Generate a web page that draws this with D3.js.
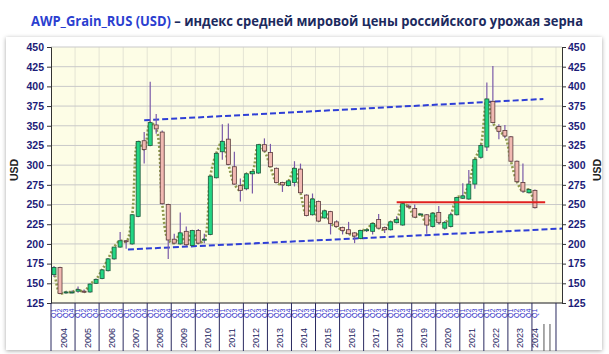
<!DOCTYPE html>
<html>
<head>
<meta charset="utf-8">
<script src="https://cdnjs.cloudflare.com/ajax/libs/d3/7.8.5/d3.min.js"></script>
<style>
  body { margin: 0; background: #fff; }
  svg { display: block; font-family: "Liberation Sans", Arial, sans-serif; }
</style>
</head>
<body>
<div id="chart"></div>
<script>
// quarters 2004 Q1 .. 2024 Q1
const years = d3.range(2004, 2025);
const quarterNames = ["Q1", "Q2", "Q3", "Q4"];

const openV = [161,170,138,139,140,140,139,150, 156,166,181,196, 204,200,235,331,
  325,351,342,250, 206,200,216,198, 217,205,212,284, 317,333,298,274,
  270,289,290,326, 316,296,278,274, 278,295,262,237, 254,233,241,228,
  221,218,214,207, 217,216,231,221, 218,227,224,248, 245,238,237,222,
  240,220,222,237, 258,257,276,310, 323,381,349,344, 336,305,278,265, 268];
const highV = [172,171,140,141,146,142,150,156, 168,182,196,215, 205,238,331,342,
  406,365,344,251, 213,240,222,218, 219,213,287,316, 352,353,317,283,
  290,292,327,334, 327,297,279,281, 305,302,263,264, 255,243,242,230,
  222,228,215,218, 219,227,238,222, 229,235,252,250, 250,239,238,240,
  248,229,240,260, 277,294,308,327, 405,426,352,351, 337,306,302,270, 269];
const lowV = [158,136,137,137,138,138,138,149, 155,165,180,195, 194,199,234,302,
  324,340,250,181, 200,199,197,197, 200,201,211,283, 307,300,275,254,
  268,264,289,317, 298,277,266,273, 273,264,235,236, 228,232,212,221,
  212,212,201,206, 215,212,219,214, 217,226,223,246, 233,237,213,221,
  225,218,221,236, 257,256,270,308, 318,353,333,334, 304,278,265,264, 245];
const closeV = [170,137,139,139,142,139,149,155, 167,181,196,204, 203,237,330,320,
  354,346,251,205, 201,214,199,217, 201,206,286,315, 330,301,276,268,
  289,292,326,318, 298,278,275,280, 296,265,236,257, 229,242,226,222,
  217,213,210,217, 218,226,220,218, 228,231,251,247, 234,238,224,239,
  227,227,237,259, 261,276,307,325, 384,354,343,337, 305,279,267,269, 246];

const yTicks = d3.range(125, 451, 25);
// trend lines: [quarter index, USD]
const upperTrend = [[15.5, 357], [81.9, 384]];
const lowerTrend = [[12.8, 193], [85, 219.5]];
const redLevel = [[57.5, 253], [82.2, 253]];

const width = 609, height = 354;
const margin = { left: 51, right: 47, top: 47, bottom: 51 };
const nSlots = 85;

const svg = d3.select("#chart").append("svg")
  .attr("width", width).attr("height", height);

const defs = svg.append("defs");
const shadow = defs.append("filter").attr("id", "shadow")
  .attr("x", "-5%").attr("y", "-5%").attr("width", "110%").attr("height", "110%");
shadow.append("feDropShadow").attr("dx", 0).attr("dy", 1)
  .attr("stdDeviation", 2).attr("flood-color", "#000").attr("flood-opacity", 0.35);

// panel
svg.append("rect").attr("x", 6).attr("y", 37).attr("width", 596).attr("height", 313)
  .attr("fill", "#fff").attr("filter", "url(#shadow)");

// title
const title = svg.append("text").attr("x", 31).attr("y", 26)
  .attr("font-family", "'Open Sans', sans-serif").attr("font-weight", 700)
  .attr("font-size", 13.5);
title.append("tspan").attr("fill", "#2b3fd0").text("AWP_Grain_RUS (USD)");
title.append("tspan").attr("fill", "#1c2a5e").text(" – индекс средней мировой цены российского урожая зерна");
title.attr("textLength", 552).attr("lengthAdjust", "spacingAndGlyphs");

const x = d3.scaleLinear().domain([0, nSlots]).range([margin.left, width - margin.right]);
const y = d3.scaleLinear().domain([125, 450]).range([height - margin.bottom, margin.top]);

const x0 = x(0), x1 = x(nSlots), yTop = y(450), yBot = y(125);

// plot background
svg.append("rect").attr("x", x0).attr("y", yTop)
  .attr("width", x1 - x0).attr("height", yBot - yTop).attr("fill", "#fdfde6");

// vertical grid at year boundaries
svg.append("g").selectAll("line")
  .data(d3.range(1, 22))
  .join("line")
  .attr("x1", (k) => x(k * 4)).attr("x2", (k) => x(k * 4))
  .attr("y1", yTop).attr("y2", yBot)
  .attr("stroke", "#e4e4d4").attr("stroke-width", 1);

// horizontal grid
svg.append("g").selectAll("line")
  .data(yTicks)
  .join("line")
  .attr("x1", x0).attr("x2", x1)
  .attr("y1", (d) => y(d)).attr("y2", (d) => y(d))
  .attr("stroke", "#c9c9c9").attr("stroke-width", 1);

// trend lines
const trendLine = d3.line().x((d) => x(d[0])).y((d) => y(d[1]));
[upperTrend, lowerTrend].forEach((t) => {
  svg.append("path").attr("d", trendLine(t)).attr("fill", "none")
    .attr("stroke", "#2f3fd6").attr("stroke-width", 2)
    .attr("stroke-dasharray", "6,3");
});

const candles = closeV.map((c, i) => ({
  i, open: openV[i], high: highV[i], low: lowV[i], close: c
}));

// close line, dotted
const closeLine = d3.line()
  .curve(d3.curveCatmullRom)
  .x((d) => x(d.i + 0.5))
  .y((d) => y(d.close));
svg.append("path").attr("d", closeLine(candles)).attr("fill", "none")
  .attr("stroke", "#8f9a4e").attr("stroke-width", 2.6)
  .attr("stroke-dasharray", "2,2");

// candles
const cg = svg.append("g").selectAll("g").data(candles).join("g");
cg.append("line")
  .attr("x1", (d) => x(d.i + 0.5)).attr("x2", (d) => x(d.i + 0.5))
  .attr("y1", (d) => y(d.high)).attr("y2", (d) => y(d.low))
  .attr("stroke", "#7a5aa8").attr("stroke-width", 1.2);
cg.append("rect")
  .attr("x", (d) => x(d.i + 0.5) - 2)
  .attr("width", 4)
  .attr("y", (d) => y(Math.max(d.open, d.close)))
  .attr("height", (d) => Math.max(1, Math.abs(y(d.open) - y(d.close))))
  .attr("fill", (d) => d.close >= d.open ? "#22d684" : "#f1b9b2")
  .attr("stroke", (d) => d.close >= d.open ? "#1c5a3a" : "#5a3a3a")
  .attr("stroke-width", 0.8);

// red support level
svg.append("path").attr("d", trendLine(redLevel)).attr("fill", "none")
  .attr("stroke", "#e02020").attr("stroke-width", 2);

// axes
const labelColor = "#1c1c78";
const leftAxis = svg.append("g").attr("transform", `translate(${x0},0)`)
  .call(d3.axisLeft(y).tickValues(yTicks).tickSize(4).tickPadding(3));
const rightAxis = svg.append("g").attr("transform", `translate(${x1},0)`)
  .call(d3.axisRight(y).tickValues(yTicks).tickSize(4).tickPadding(2));
[leftAxis, rightAxis].forEach((a) => {
  a.select(".domain").attr("stroke", "#333");
  a.selectAll(".tick line").attr("stroke", "#333");
  a.selectAll(".tick text").attr("fill", labelColor).attr("font-size", 10.5)
    .attr("font-weight", 700).attr("font-family", "'Liberation Sans', Arial, sans-serif");
});

svg.append("text").attr("transform", `translate(18,170) rotate(-90)`)
  .attr("text-anchor", "middle").attr("font-size", 10.5).attr("font-weight", 700)
  .attr("fill", "#222").text("USD");
svg.append("text").attr("transform", `translate(601,170) rotate(-90)`)
  .attr("text-anchor", "middle").attr("font-size", 10.5).attr("font-weight", 700)
  .attr("fill", "#222").text("USD");

// x axis
svg.append("line").attr("x1", x0).attr("x2", x1).attr("y1", yBot).attr("y2", yBot)
  .attr("stroke", "#333");

svg.append("g").selectAll("text")
  .data(candles)
  .join("text")
  .attr("transform", (d) => `translate(${x(d.i + 0.5) + 2.4},${yBot + 15}) rotate(-90)`)
  .attr("font-size", 7).attr("fill", "#3434c8")
  .text((d) => quarterNames[d.i % 4]);

svg.append("g").selectAll("line")
  .data(d3.range(0, 22))
  .join("line")
  .attr("x1", (k) => x(Math.min(k * 4, nSlots))).attr("x2", (k) => x(Math.min(k * 4, nSlots)))
  .attr("y1", yBot).attr("y2", 351)
  .attr("stroke", "#2a2a60").attr("stroke-width", 1);

svg.append("g").selectAll("line")
  .data([82, 83])
  .join("line")
  .attr("x1", (q) => x(q)).attr("x2", (q) => x(q))
  .attr("y1", yBot + 21).attr("y2", 351)
  .attr("stroke", "#555").attr("stroke-width", 1);

svg.append("g").selectAll("text")
  .data(years)
  .join("text")
  .attr("transform", (yr) => {
    const c = yr === 2024 ? 80.5 : (yr - 2004) * 4 + 2;
    return `translate(${x(c) + 3.5},${yBot + 35}) rotate(-90)`;
  })
  .attr("text-anchor", "middle")
  .attr("font-size", 9).attr("fill", "#1c1c60")
  .text((yr) => yr);
</script>
</body>
</html>
